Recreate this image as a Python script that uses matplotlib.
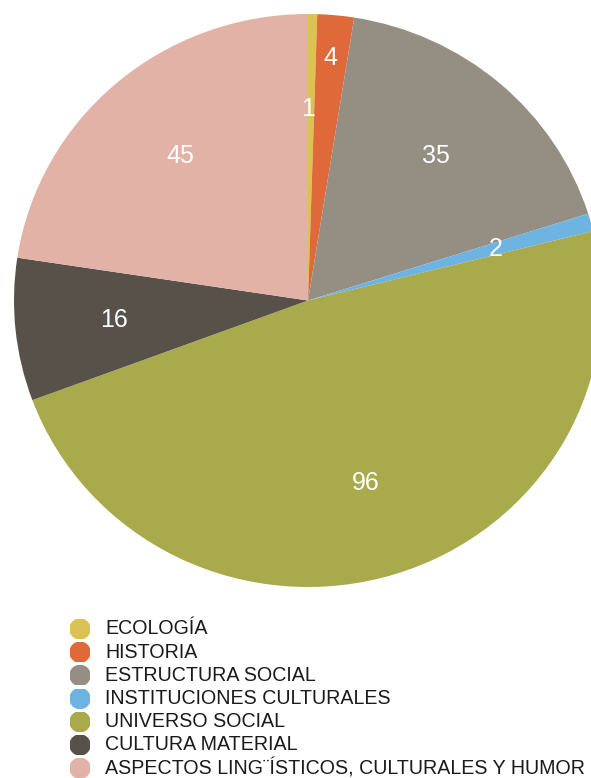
import matplotlib.pyplot as plt

categories = ['ECOLOGÍA', 'HISTORIA', 'ESTRUCTURA SOCIAL', 'INSTITUCIONES CULTURALES',
              'UNIVERSO SOCIAL', 'CULTURA MATERIAL',
              'ASPECTOS LING¨ÍSTICOS, CULTURALES Y HUMOR']
values = [1, 4, 35, 2, 96, 16, 45]
colors = ['#DAC352', '#E0693A', '#958F83', '#6EB4E2', '#A8AA4C', '#58514A', '#E3B2A7']

plt.rcParams['font.family'] = ['Liberation Sans', 'DejaVu Sans']

fig = plt.figure(figsize=(5.91, 7.78), dpi=100)
# pie centre ~ (308, 300) px, slightly wider than tall
ax = fig.add_axes([14 / 591, 191 / 778, 588 / 591, 573 / 778])
wedges, texts = ax.pie(values, colors=colors, startangle=90, counterclock=False,
                       labels=[str(v) for v in values], labeldistance=0.665,
                       wedgeprops=dict(linewidth=0),
                       textprops=dict(color='white', fontsize=18))
for t in texts:
    t.set_horizontalalignment('center')
    t.set_verticalalignment('center')
# the small labels sit at their own spots
texts[0].set_position((0.0, 0.67))
texts[1].set_position((0.075, 0.845))
ax.set_xlim(-1, 1)
ax.set_ylim(-1, 1)
ax.set_aspect('auto')
ax.axis('off')
for w in wedges:
    w.set_clip_on(False)

# legend
y0 = 629
step = 23.2
for i, (lab, col) in enumerate(zip(categories, colors)):
    y = 1 - (y0 + i * step) / 778
    fig.text(105 / 591, y, lab, fontsize=14.1, va='center', ha='left', color='#1a1a1a')
    marker_ax = fig.add_axes([70 / 591, y - 10 / 778, 20 / 591, 20 / 778])
    marker_ax.add_patch(plt.Circle((0.5, 0.5), 0.5, color=col))
    marker_ax.set_xlim(0, 1)
    marker_ax.set_ylim(0, 1)
    marker_ax.set_aspect('equal')
    marker_ax.axis('off')

fig.savefig('out.png', dpi=100)
